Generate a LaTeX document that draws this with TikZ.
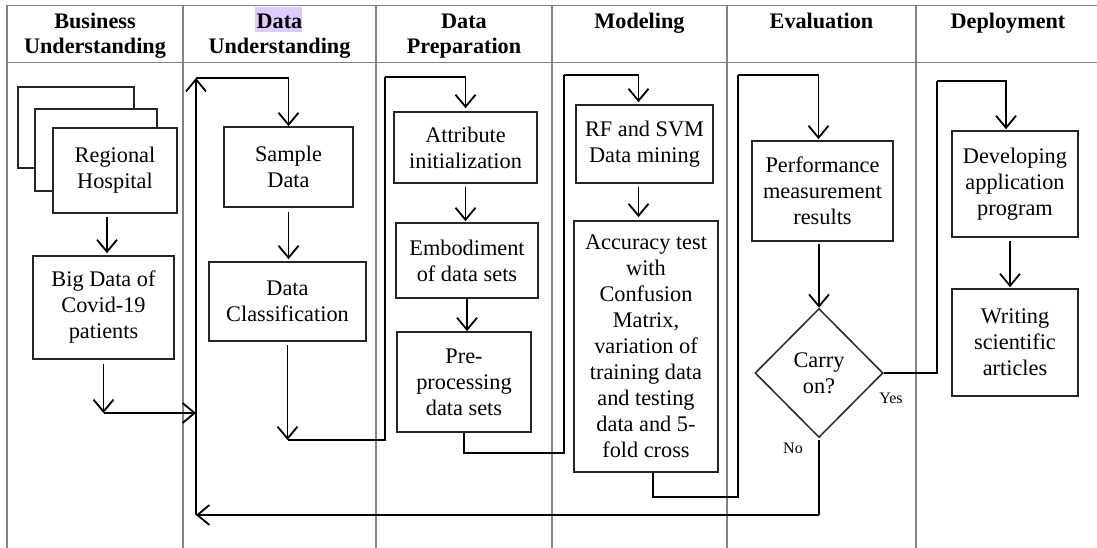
\documentclass[tikz,border=0pt]{standalone}
\usepackage{fontspec}
\setmainfont{Liberation Serif}
\usetikzlibrary{arrows.meta,shapes.geometric}
\definecolor{tablegray}{RGB}{130,130,130}
\definecolor{hilite}{RGB}{222,204,255}
\newcommand{\bodyfnt}{\fontsize{22.3}{26}\selectfont}
\newcommand{\headfnt}{\fontsize{22.2}{25}\selectfont\bfseries}
\newcommand{\smallfnt}{\fontsize{16}{19}\selectfont}
\begin{document}
\begin{tikzpicture}[x=1pt,y=-1pt,
  grid/.style={draw=tablegray,line width=1.3pt},
  box/.style={draw=black!85,line width=1.7pt,fill=white,align=center,inner sep=0pt,font=\bodyfnt},
  head/.style={anchor=north,align=center,inner sep=0pt,font=\headfnt},
  conn/.style={draw=black,line width=1.8pt},
  arr/.style={conn,-{Straight Barb[length=12pt,width=20pt]}},
  lbl/.style={inner sep=0pt,font=\smallfnt}]
\useasboundingbox (0,0) rectangle (1097,548);
% table
\draw[grid] (7,5.5) -- (1097,5.5);
\draw[grid] (7,62.5) -- (1097,62.5);
\foreach \xx in {7,183,376,552,727,916} {\draw[grid] (\xx,5.5) -- (\xx,548);}
\fill[hilite] (255,7) rectangle (302,32);
% headers
\node[head] (h1) at (95,13.3) {Business\\Understanding};
\node[head] (h2) at (279.5,13.3) {Data\\Understanding};
\node[head] (h3) at (464,13.3) {Data\\Preparation};
\node[head] (h4) at (639.5,13.3) {Modeling};
\node[head] (h5) at (821.5,13.3) {Evaluation};
\node[head] (h6) at (1008,13.3) {Deployment};
% boxes
\node[box,minimum width=116pt,minimum height=81pt] (stack3) at (76,127.5) {};
\node[box,minimum width=122pt,minimum height=82pt] (stack2) at (96,150) {};
\node[box,minimum width=124pt,minimum height=85pt] (hosp) at (115,170.5) {Regional\\Hospital};
\node[box,minimum width=141pt,minimum height=103pt] (bigdata) at (103.5,307.5) {Big Data of\\Covid-19\\patients};
\node[box,minimum width=129pt,minimum height=80pt] (sample) at (288.5,167) {Sample\\Data};
\node[box,minimum width=157pt,minimum height=79pt] (classif) at (287.5,301.5) {Data\\Classification};
\node[box,minimum width=143pt,minimum height=71pt] (attr) at (465.5,147.5) {Attribute\\initialization};
\node[box,minimum width=142pt,minimum height=75pt] (embod) at (467,260.5) {Embodiment\\of data sets};
\node[box,minimum width=134pt,minimum height=100pt] (prep) at (464,382) {Pre-\\processing\\data sets};
\node[box,minimum width=137pt,minimum height=78pt] (rf) at (644.5,144) {RF and SVM\\Data mining};
\node[box,minimum width=144pt,minimum height=251pt] (acc) at (646,346.5) {Accuracy test\\with\\Confusion\\Matrix,\\variation of\\training data\\and testing\\data and 5-\\fold cross};
\node[box,minimum width=141pt,minimum height=100pt] (perf) at (822.5,191) {Performance\\measurement\\results};
\node[box,diamond,line width=1.5pt,minimum width=128pt,minimum height=129pt] (diam) at (819,373) {Carry\\on?};
\node[box,minimum width=126pt,minimum height=106pt] (dev) at (1015,184) {Developing\\application\\program};
\node[box,minimum width=126pt,minimum height=107pt] (writ) at (1015,342.5) {Writing\\scientific\\articles};
% coordinates
\coordinate (bdturn) at (104,413);
\coordinate (loopB) at (196,515);
\coordinate (loopT) at (196,78);
\coordinate (c2) at (288,440);
\coordinate (c2r) at (385,440);
\coordinate (c2t) at (385,77);
\coordinate (c3b) at (564,453);
\coordinate (c3t) at (564,75);
\coordinate (c4b) at (738,497);
\coordinate (c4t) at (738,75);
\coordinate (c5r) at (937,373);
\coordinate (c5t) at (937,81);
\coordinate (hospout) at ([xshift=-8pt]hosp.south);
\coordinate (rfin) at ([xshift=-6pt]rf.north);
\coordinate (rfout) at ([xshift=-6pt]rf.south);
\coordinate (accout) at ([xshift=7pt]acc.south);
\coordinate (perfin) at ([xshift=-4pt]perf.north);
\coordinate (devin) at ([xshift=-9pt]dev.north);
\coordinate (devout) at ([xshift=-5pt]dev.south);
% connectors
\draw[arr,shorten <=3pt,shorten >=2pt] (hospout) -- (hospout |- bigdata.north);
\draw[arr,shorten <=4pt] (bigdata.south) -- (bigdata.south |- bdturn);
\draw[arr] (bdturn) -- (bdturn -| loopB);
\draw[arr] (loopB) -- (loopT);
\draw[arr] (loopT) -- (loopT -| sample.north) -- (sample.north);
\draw[arr,shorten <=4pt,shorten >=2pt] (sample.south) -- (sample.south |- classif.north);
\draw[arr,shorten <=3pt] (classif.south) -- (classif.south |- c2);
\draw[conn] (classif.south |- c2) -- (c2r) -- (c2t);
\draw[arr,shorten >=3pt] (c2t) -- (c2t -| attr.north) -- (attr.north);
\draw[arr,shorten <=3pt,shorten >=1pt] (attr.south) -- (attr.south |- embod.north);
\draw[arr] (embod.south) -- (embod.south |- prep.north);
\draw[conn] (prep.south) -- (prep.south |- c3b) -- (c3b) -- (c3t);
\draw[arr,shorten >=2pt] (c3t) -- (c3t -| rfin) -- (rfin);
\draw[arr,shorten <=3pt,shorten >=3pt] (rfout) -- (rfout |- acc.north);
\draw[conn] (accout) -- (accout |- c4b) -- (c4b) -- (c4t);
\draw[arr,shorten >=1pt] (c4t) -- (c4t -| perfin) -- (perfin);
\draw[arr,shorten <=2pt] (perf.south -| diam.north) -- (diam.north);
\draw[conn] (diam.east) -- (c5r) -- (c5t);
\draw[arr,shorten >=1pt] (c5t) -- (c5t -| devin) -- (devin);
\draw[arr,shorten <=3pt,shorten >=1pt] (devout) -- (devout |- writ.north);
\draw[conn,shorten <=2pt] (diam.south) -- (diam.south |- loopB);
\draw[arr] (diam.south |- loopB) -- (loopB);
% labels
\node[lbl] (yes) at (891,398) {Yes};
\node[lbl] (no) at (793,448) {No};
\end{tikzpicture}
\end{document}
